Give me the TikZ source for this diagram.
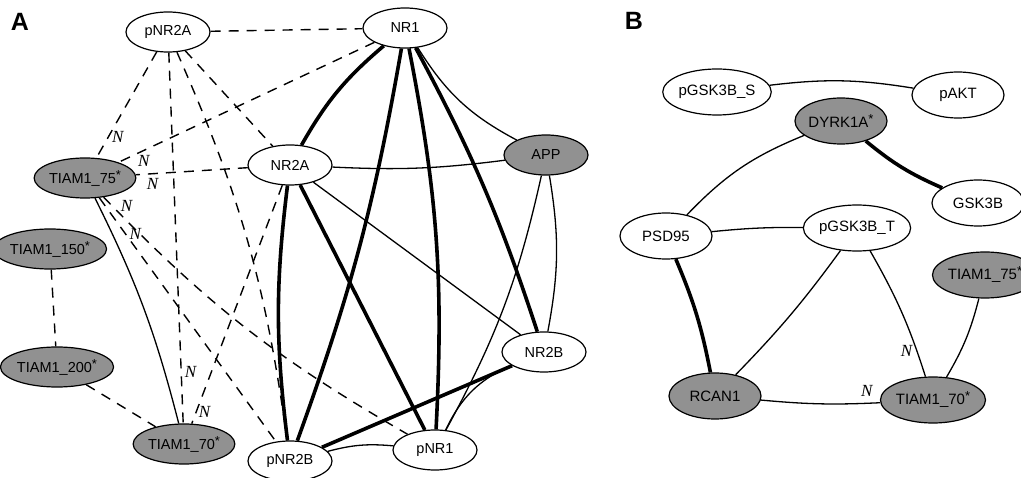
\documentclass[tikz,border=0pt]{standalone}
\usepackage{fontspec}
\setmainfont{Liberation Sans}
\newfontfamily\nfont{Liberation Serif}
\usetikzlibrary{shapes.geometric}
\definecolor{nodegray}{RGB}{145,145,145}
\newcommand{\myast}{\raisebox{4pt}{\fontsize{13}{13}\selectfont *}}
\tikzset{
  nd/.style={ellipse, draw, line width=1.2pt, minimum width=84pt, minimum height=40pt, inner sep=0pt, font=\fontsize{14.5}{14.5}\selectfont, fill=white},
  ndg/.style={nd, fill=nodegray},
  ndb/.style={nd, minimum width=92pt, minimum height=46pt, font=\fontsize{15}{15}\selectfont},
  ndbg/.style={ndb, fill=nodegray},
  thinedge/.style={line width=1.3pt},
  thickedge/.style={line width=3.6pt},
  dashedge/.style={line width=1.4pt, dash pattern=on 10pt off 8pt},
  nlab/.style={font=\nfont\itshape\fontsize{17}{17}\selectfont, inner sep=0pt},
  panel/.style={font=\bfseries\fontsize{25}{25}\selectfont, inner sep=0pt}
}
\begin{document}
\begin{tikzpicture}[x=1pt,y=1pt]
\useasboundingbox (0,0) rectangle (1021,-478);
\clip (0,0) rectangle (1021,-478);
\fill[white] (0,0) rectangle (1021,-478);
% panel labels
\node[panel] (lA) at (20,-22) {A};
\node[panel] (lB) at (634,-21) {B};
% ===== Panel A nodes =====
\node[nd]  (pNR2A) at (168,-32) {pNR2A};
\node[nd]  (NR1)   at (405,-28) {NR1};
\node[nd]  (NR2A)  at (290,-165) {NR2A};
\node[ndg] (APP)   at (546,-155) {APP};
\node[ndg] (T75)   at (85,-178) {TIAM1\_75\myast};
\node[ndg] (T150)  at (50,-249) {TIAM1\_150\myast};
\node[ndg] (T200)  at (57,-367) {TIAM1\_200\myast};
\node[ndg] (T70)   at (184,-444) {TIAM1\_70\myast};
\node[nd]  (pNR2B) at (290,-461) {pNR2B};
\node[nd]  (pNR1)  at (435,-450) {pNR1};
\node[nd]  (NR2B)  at (544,-352) {NR2B};
% ===== Panel A solid edges =====
\draw[thickedge] (NR1) to[bend right=10] (NR2A);
\draw[thickedge] (NR1) to[bend left=5] (pNR2B);
\draw[thickedge] (NR1) to[bend left=7] (pNR1);
\draw[thickedge] (NR1) to[bend left=5] (NR2B);
\draw[thinedge]  (NR1) to[bend right=15] (APP);
\draw[thinedge]  (NR2A) to[bend right=5] (APP);
\draw[thinedge]  (NR2A) -- (NR2B);
\draw[thickedge] (NR2A) to[bend right=7] (pNR2B);
\draw[thickedge] (NR2A) -- (pNR1);
\draw[thinedge]  (APP) to[bend left=8] (pNR1);
\draw[thinedge]  (APP) to[bend left=10] (NR2B);
\draw[thickedge] (NR2B) -- (pNR2B);
\draw[thinedge]  (NR2B) to[bend right=20] (pNR1);
\draw[thinedge]  (pNR2B) to[bend left=10] (pNR1);
\draw[thinedge]  (T75) to[bend left=6] (T70);
% ===== Panel A dashed edges =====
\draw[dashedge] (pNR2A) -- (NR1);
\draw[dashedge] (pNR2A) -- (NR2A);
\draw[dashedge] (pNR2A) -- node[nlab, pos=0.8, right=3pt] (n1) {N} (T75);
\draw[dashedge] (pNR2A) -- node[nlab, pos=0.86, right=3pt] (n6) {N} (T70);
\draw[dashedge] (pNR2A) to[bend left=8] (pNR2B);
\draw[dashedge] (NR1) -- node[nlab, pos=0.93, below right=1pt] (n2) {N} (T75);
\draw[dashedge] (NR2A) -- node[nlab, pos=0.85, below=4pt] (n3) {N} (T75);
\draw[dashedge] (NR2A) -- node[nlab, pos=0.95, right=2pt] (n7) {N} (T70);
\draw[dashedge] (T75) to[bend right=8] node[nlab, pos=0.05, above right=1pt] (n4) {N} (pNR1);
\draw[dashedge] (T75) -- node[nlab, pos=0.15, right=3pt] (n5) {N} (pNR2B);
\draw[dashedge] (T150) -- (T200);
\draw[dashedge] (T200) -- (T70);
% ===== Panel B nodes =====
\node[ndb]  (pGS)  at (717,-92) {pGSK3B\_S};
\node[ndb]  (pAKT) at (958,-95) {pAKT};
\node[ndbg] (DYR)  at (841,-121) {DYRK1A\myast};
\node[ndb]  (GSK)  at (978,-203) {GSK3B};
\node[ndb]  (PSD)  at (666,-236) {PSD95};
\node[ndb]  (pGT)  at (857,-228) {pGSK3B\_T};
\node[ndbg] (BT75) at (985,-275) {TIAM1\_75\myast};
\node[ndbg] (RCAN) at (715,-396) {RCAN1};
\node[ndbg] (BT70) at (933,-400) {TIAM1\_70\myast};
% ===== Panel B edges =====
\draw[thinedge]  (pGS) to[bend left=8] (pAKT);
\draw[thickedge] (DYR) to[bend right=8] (GSK);
\draw[thinedge]  (DYR) to[bend right=12] (PSD);
\draw[thinedge]  (PSD) to[bend left=3] (pGT);
\draw[thickedge] (PSD) to[bend left=6] (RCAN);
\draw[thinedge]  (pGT) to[bend left=4] (RCAN);
\draw[thinedge]  (pGT) to[bend left=6] node[nlab, pos=0.82, left=4pt] (n8) {N} (BT70);
\draw[thinedge]  (BT75) to[bend left=8] (BT70);
\draw[thinedge]  (RCAN) to[bend right=4] node[nlab, pos=0.9, above=6pt] (n9) {N} (BT70);
\end{tikzpicture}
\end{document}
